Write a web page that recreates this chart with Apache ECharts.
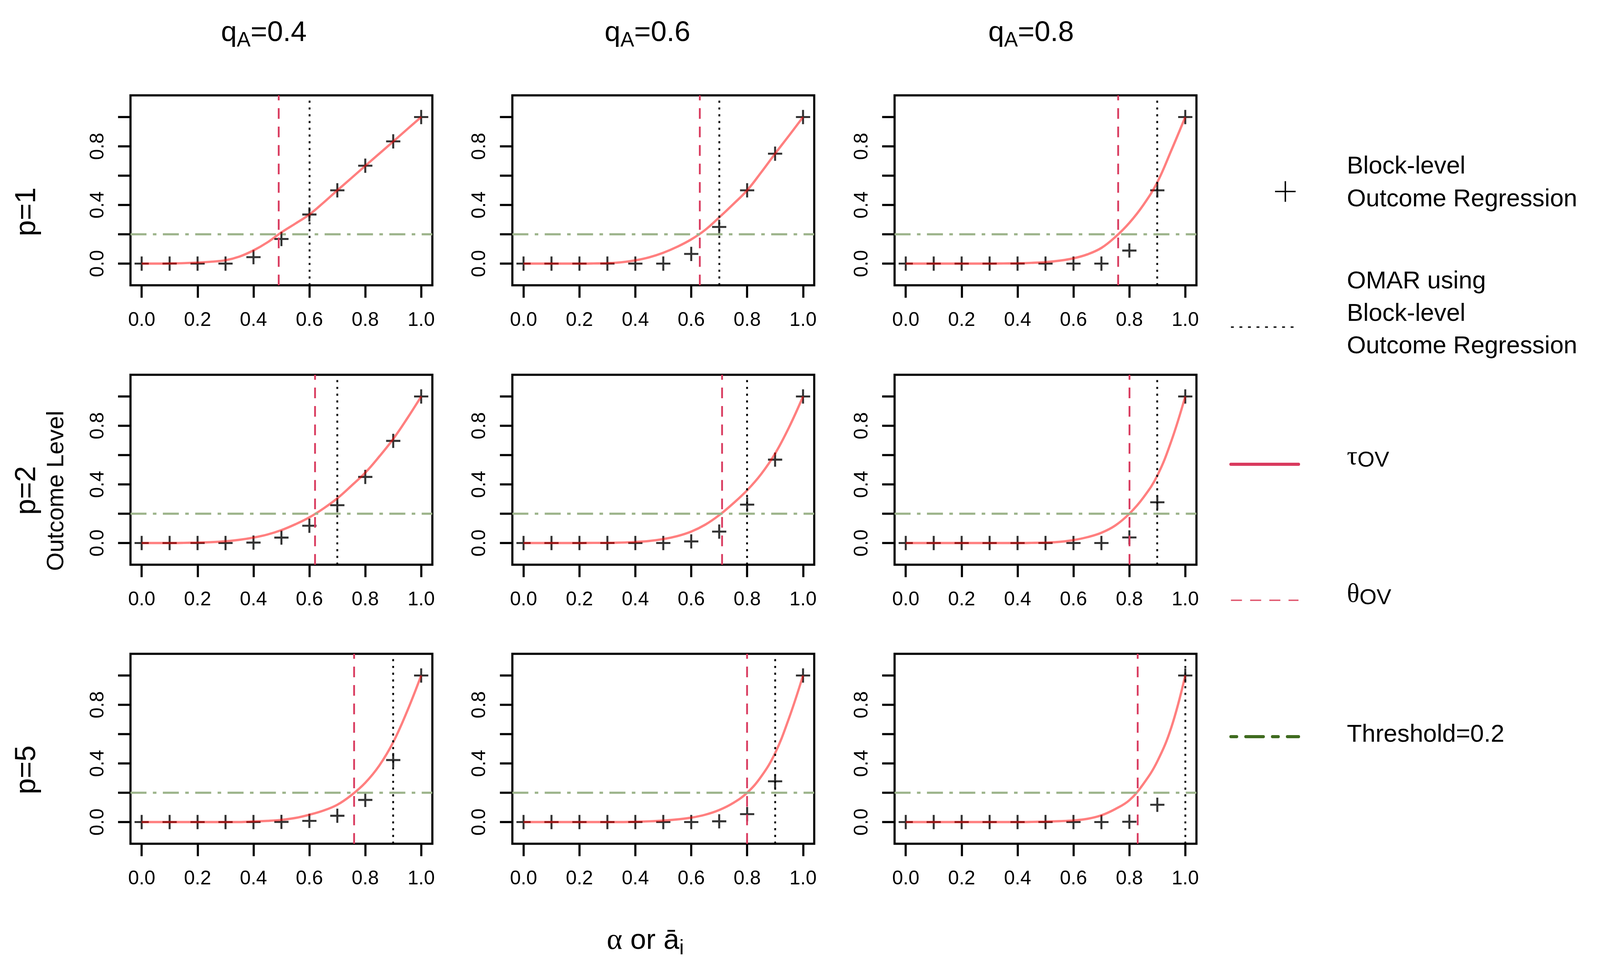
<!DOCTYPE html>
<html lang="en">
<head>
<meta charset="UTF-8">
<title>Outcome level by alpha</title>
<script src="https://cdn.jsdelivr.net/npm/echarts@6/dist/echarts.min.js"></script>
<style>
  html, body { margin: 0; background: #fff; overflow: hidden; }
  #chart { width: 100vw; height: 100vh; }
</style>
</head>
<body>
<div id="chart"></div>
<script type="text/javascript">
// x positions of the block-level points and of the tau curve samples
var xPts = [0, 0.1, 0.2, 0.3, 0.4, 0.5, 0.6, 0.7, 0.8, 0.9, 1.0];
var xCurve = [0, 0.05, 0.1, 0.15, 0.2, 0.25, 0.3, 0.35, 0.4, 0.45, 0.5,
              0.55, 0.6, 0.65, 0.7, 0.75, 0.8, 0.85, 0.9, 0.95, 1.0];
var qA = ['0.4', '0.6', '0.8'];
var pVals = ['1', '2', '5'];
var xTicks = [0, 0.2, 0.4, 0.6, 0.8, 1.0];
var yTicks = [0, 0.2, 0.4, 0.6, 0.8, 1.0];
var yTickLabels = [0, 0.4, 0.8];
var threshold = 0.2;

// Block-level outcome regression (+ points)
var blockP1Q4 = [0, 0, 0, 0, 0.044, 0.168, 0.335, 0.5, 0.668, 0.834, 1];
var blockP1Q6 = [0, 0, 0, 0, 0, 0, 0.066, 0.25, 0.5, 0.75, 1];
var blockP1Q8 = [0, 0, 0, 0, 0, 0, 0, 0, 0.089, 0.5, 1];
var blockP2Q4 = [0, 0, 0, 0, 0.003, 0.037, 0.118, 0.258, 0.451, 0.697, 1];
var blockP2Q6 = [0, 0, 0, 0, 0, 0, 0.011, 0.078, 0.262, 0.569, 1];
var blockP2Q8 = [0, 0, 0, 0, 0, 0, 0, 0, 0.038, 0.278, 1];
var blockP5Q4 = [0, 0, 0, 0, 0, 0.001, 0.008, 0.043, 0.151, 0.423, 1];
var blockP5Q6 = [0, 0, 0, 0, 0, 0, 0, 0.005, 0.054, 0.278, 1];
var blockP5Q8 = [0, 0, 0, 0, 0, 0, 0, 0, 0.002, 0.118, 1];

// tau_OV curves, sampled at xCurve
var tauP1Q4 = [0, 0, 0.001, 0.003, 0.007, 0.013, 0.023, 0.048, 0.09, 0.145, 0.213,
               0.273, 0.335, 0.415, 0.5, 0.583, 0.667, 0.75, 0.833, 0.917, 1];
var tauP1Q6 = [0, 0, 0, 0, 0, 0.001, 0.003, 0.009, 0.022, 0.043, 0.074,
               0.115, 0.165, 0.23, 0.315, 0.405, 0.5, 0.622, 0.75, 0.874, 1];
var tauP1Q8 = [0, 0, 0, 0, 0, 0, 0, 0.001, 0.002, 0.005, 0.01,
               0.02, 0.036, 0.063, 0.107, 0.182, 0.278, 0.4, 0.555, 0.772, 1];
var tauP2Q4 = [0, 0, 0, 0.001, 0.003, 0.006, 0.012, 0.022, 0.037, 0.058, 0.088,
               0.128, 0.175, 0.235, 0.305, 0.39, 0.48, 0.59, 0.71, 0.85, 1];
var tauP2Q6 = [0, 0, 0, 0, 0, 0.001, 0.001, 0.003, 0.007, 0.014, 0.027,
               0.047, 0.078, 0.125, 0.19, 0.27, 0.36, 0.47, 0.61, 0.79, 1];
var tauP2Q8 = [0, 0, 0, 0, 0, 0, 0, 0, 0, 0.001, 0.003,
               0.008, 0.02, 0.04, 0.07, 0.12, 0.2, 0.31, 0.46, 0.695, 1];
var tauP5Q4 = [0, 0, 0, 0, 0, 0, 0, 0, 0.004, 0.008, 0.015,
               0.028, 0.05, 0.078, 0.118, 0.183, 0.268, 0.385, 0.545, 0.757, 1];
var tauP5Q6 = [0, 0, 0, 0, 0, 0, 0, 0, 0.002, 0.005, 0.01,
               0.018, 0.03, 0.05, 0.082, 0.13, 0.2, 0.31, 0.47, 0.71, 1];
var tauP5Q8 = [0, 0, 0, 0, 0, 0, 0, 0, 0, 0.001, 0.003,
               0.006, 0.011, 0.022, 0.046, 0.089, 0.149, 0.26, 0.414, 0.645, 1];

// theta_OV (red dashed) and OMAR (black dotted), one per qA column
var thetaP1 = [0.49, 0.63, 0.76];
var thetaP2 = [0.62, 0.71, 0.80];
var thetaP5 = [0.76, 0.80, 0.83];
var omarP1 = [0.6, 0.7, 0.9];
var omarP2 = [0.7, 0.8, 0.9];
var omarP5 = [0.9, 0.9, 1.0];

var panels = [
    [[blockP1Q4, tauP1Q4], [blockP1Q6, tauP1Q6], [blockP1Q8, tauP1Q8]],
    [[blockP2Q4, tauP2Q4], [blockP2Q6, tauP2Q6], [blockP2Q8, tauP2Q8]],
    [[blockP5Q4, tauP5Q4], [blockP5Q6, tauP5Q6], [blockP5Q8, tauP5Q8]]
];
var thetaRows = [thetaP1, thetaP2, thetaP5];
var omarRows = [omarP1, omarP2, omarP5];

// layout, designed on a 4500 x 2500 canvas and scaled to the real viewport
var W = window.innerWidth || 4500, H = window.innerHeight || 2500;
var sx = W / 4500, sy = H / 2500, k = Math.min(sx, sy);
function X(v) { return v * sx; }
function Y(v) { return v * sy; }
function K(v) { return v * k; }
function dash(arr) { return arr.map(K); }

var colLeft = [367, 1441, 2516];
var rowTop = [244, 959, 1673];
var panelW = 849, panelH = 486;

var FONT = 'Liberation Sans';
var PLUS = 'path://M43,0 H57 V43 H100 V57 H57 V100 H43 V57 H0 V43 H43 Z';

var chart = echarts.init(document.getElementById('chart'));

var grids = [], xAxes = [], yAxes = [], series = [];
for (var r = 0; r < 3; r++) {
    for (var c = 0; c < 3; c++) {
        var i = r * 3 + c;
        var pts = panels[r][c][0], tau = panels[r][c][1];
        grids.push({
            left: X(colLeft[c]), top: Y(rowTop[r]), width: X(panelW), height: Y(panelH),
            show: true, borderColor: '#000', borderWidth: K(6),
            backgroundColor: 'transparent', outerBoundsMode: 'none'
        });
        xAxes.push({
            gridIndex: i, type: 'value', min: -0.04, max: 1.04,
            axisLine: {show: false, onZero: false}, splitLine: {show: false},
            axisTick: {show: true, length: K(35), customValues: xTicks,
                       lineStyle: {color: '#000', width: K(6)}},
            axisLabel: {customValues: xTicks, margin: K(72), fontSize: K(55),
                        fontFamily: FONT, color: '#000',
                        formatter: function (v) { return v.toFixed(1); }}
        });
        yAxes.push({
            gridIndex: i, type: 'value', min: -0.148, max: 1.148,
            axisLine: {show: false, onZero: false}, splitLine: {show: false},
            axisTick: {show: true, length: K(35), customValues: yTicks,
                       lineStyle: {color: '#000', width: K(6)}},
            axisLabel: {customValues: yTickLabels, rotate: 90, margin: K(64),
                        fontSize: K(55), fontFamily: FONT, color: '#000',
                        formatter: function (v) { return v.toFixed(1); }}
        });
        // threshold line
        series.push({
            type: 'line', xAxisIndex: i, yAxisIndex: i, data: [], silent: true,
            markLine: {
                silent: true, symbol: ['none', 'none'], label: {show: false},
                animation: false,
                data: [{yAxis: threshold,
                        lineStyle: {color: '#9db48b', width: K(6), type: dash([45, 18, 10, 18])}}]
            }
        });
        series.push({
            type: 'scatter', xAxisIndex: i, yAxisIndex: i, silent: true,
            symbol: PLUS, symbolSize: K(40),
            itemStyle: {color: '#000'},
            data: xPts.map(function (x, j) { return [x, pts[j]]; })
        });
        series.push({
            type: 'line', xAxisIndex: i, yAxisIndex: i, silent: true,
            showSymbol: false, smooth: 0.4,
            lineStyle: {color: 'rgba(255,0,0,0.5)', width: K(6.5)},
            data: xCurve.map(function (x, j) { return [x, tau[j]]; })
        });
        series.push({
            type: 'line', xAxisIndex: i, yAxisIndex: i, data: [], silent: true,
            markLine: {
                silent: true, symbol: ['none', 'none'], label: {show: false},
                animation: false,
                data: [
                    {xAxis: thetaRows[r][c],
                     lineStyle: {color: '#d93a5e', width: K(5), type: dash([30, 22])}},
                    {xAxis: omarRows[r][c],
                     lineStyle: {color: '#000', width: K(5), type: dash([6, 13])}}
                ]
            }
        });
    }
}

var mainRich = {
    m: {fontSize: K(80), fontFamily: FONT, color: '#000', lineHeight: K(100), verticalAlign: 'middle'},
    g: {fontSize: K(84), fontFamily: 'Liberation Serif', color: '#000', lineHeight: K(100), verticalAlign: 'middle'},
    s: {fontSize: K(58), fontFamily: FONT, color: '#000', lineHeight: K(60), verticalAlign: 'bottom'}
};
var legRich = {
    g: {fontSize: K(74), fontFamily: 'Liberation Serif', color: '#000', lineHeight: K(80), verticalAlign: 'middle'},
    s: {fontSize: K(62), fontFamily: FONT, color: '#000', lineHeight: K(56), verticalAlign: 'bottom'}
};
function font(size) { return K(size) + 'px "Liberation Sans"'; }

var graphics = [];
var titleX = [742, 1821, 2900];
qA.forEach(function (q, c) {
    graphics.push({type: 'text', x: X(titleX[c]), y: Y(85),
        style: {text: '{m|q}{s|A}{m|=' + q + '}', rich: mainRich, align: 'center', verticalAlign: 'middle'}});
});
var rowY = [542, 1255, 1970];
pVals.forEach(function (p, r) {
    graphics.push({type: 'text', x: X(76), y: Y(rowY[r]), rotation: Math.PI / 2,
        style: {text: 'p=' + p, font: font(81), fill: '#000',
                align: 'center', verticalAlign: 'middle'}});
});
graphics.push({type: 'text', x: X(159), y: Y(1256), rotation: Math.PI / 2,
    style: {text: 'Outcome Level', font: font(67), fill: '#000',
            align: 'center', verticalAlign: 'middle'}});
graphics.push({type: 'text', x: X(1815), y: Y(2408),
    style: {text: '{g|\u03b1}{m| or \u0101}{s|i}', rich: mainRich, align: 'center', verticalAlign: 'middle'}});

// legend
var legX = 3788;
function legText(txt, y) {
    graphics.push({type: 'text', x: X(legX), y: Y(y),
        style: {text: txt, font: font(69), fill: '#000',
                align: 'left', verticalAlign: 'middle'}});
}
function legLine(y, stroke, width, d, cap) {
    graphics.push({type: 'line', shape: {x1: X(3462), y1: Y(y), x2: X(3652), y2: Y(y)},
        style: {stroke: stroke, lineWidth: K(width), lineDash: d ? dash(d) : null, lineCap: cap || 'butt'}});
}
graphics.push({type: 'line', shape: {x1: X(3615) - K(29), y1: Y(490), x2: X(3615) + K(29), y2: Y(490)},
    style: {stroke: '#000', lineWidth: K(4)}});
graphics.push({type: 'line', shape: {x1: X(3615), y1: Y(490) - K(29), x2: X(3615), y2: Y(490) + K(29)},
    style: {stroke: '#000', lineWidth: K(4)}});
legText('Block-level', 427);
legText('Outcome Regression', 511);
legLine(837, '#000', 4, [8, 16]);
legText('OMAR using', 721);
legText('Block-level', 804);
legText('Outcome Regression', 887);
legLine(1188, '#d93a5e', 9, null, 'round');
graphics.push({type: 'text', x: X(legX), y: Y(1170),
    style: {text: '{g|\u03c4}{s|OV}', rich: legRich, align: 'left', verticalAlign: 'middle'}});
legLine(1536, '#df536b', 4, [31, 23]);
graphics.push({type: 'text', x: X(legX), y: Y(1522),
    style: {text: '{g|\u03b8}{s|OV}', rich: legRich, align: 'left', verticalAlign: 'middle'}});
legLine(1885, '#3f6b1f', 9, [16, 26, 49, 26], 'round');
legText('Threshold=0.2', 1881);

chart.setOption({
    backgroundColor: '#fff',
    animation: false,
    grid: grids,
    xAxis: xAxes,
    yAxis: yAxes,
    series: series,
    graphic: {elements: graphics}
});
</script>
</body>
</html>
